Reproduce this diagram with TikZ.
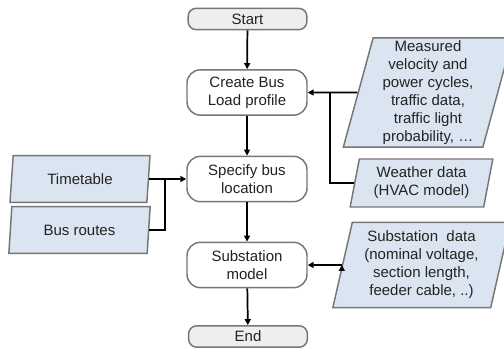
\documentclass[tikz,border=0pt]{standalone}
\usepackage{fontspec}
\setmainfont{Liberation Sans}
\usetikzlibrary{shapes.geometric, arrows.meta}
\definecolor{boxgray}{RGB}{118, 118, 118}
\definecolor{datablue}{RGB}{219, 229, 241}
\definecolor{termgray}{RGB}{238, 238, 238}
\definecolor{textdark}{RGB}{35, 35, 35}

\begin{document}
\begin{tikzpicture}[x=0.75pt, y=-0.75pt,
  every node/.style={font=\fontsize{11.25}{13.5}\selectfont, text=textdark, align=center},
  terminal/.style={draw=boxgray, fill=termgray, line width=1.1pt, rounded corners=6pt,
    minimum width=89pt, minimum height=16pt, inner sep=0pt},
  process/.style={draw=boxgray, fill=white, line width=1.1pt, rounded corners=10pt,
    minimum width=90pt, minimum height=34pt, inner sep=0pt},
  data/.style={trapezium, trapezium left angle=74, trapezium right angle=106,
    trapezium stretches body, draw=boxgray, fill=datablue, line width=1.1pt, inner sep=0pt},
  flow/.style={-{Triangle[length=4.5pt, width=4.5pt]}, line width=1.3pt},
  link/.style={line width=1.3pt}]

  \useasboundingbox (0,0) rectangle (504,352);

  \draw[]
   (247.5,19) node(start)[terminal] {Start}
   (247,92.5) node(create)[process] {Create Bus\\Load profile}
   (247,179) node(specify)[process] {Specify bus\\location}
   (247,265) node(substation)[process] {Substation\\model}
   (248,336.5) node(end)[terminal] {End};

  %inputs
  \draw[]
   (428,92.5) node(measured)[data, minimum width=127pt, minimum height=82pt]
     {Measured\\velocity and\\power cycles,\\traffic data,\\traffic light\\probability, \dots}
   (421.5,183) node(weather)[data, minimum width=107pt, minimum height=36pt]
     {Weather data\\(HVAC model)}
   (421.5,265) node(subdata)[data, minimum width=133pt, minimum height=64pt]
     {Substation\ \ data\\(nominal voltage,\\section length,\\feeder cable, ..)}
   (80,179) node(timetable)[data, minimum width=105pt, minimum height=35pt] {Timetable}
   (79.5,230) node(routes)[data, minimum width=106pt, minimum height=35pt] {Bus routes};

  \coordinate (jright) at (330,92.5);
  \coordinate (jleft) at (165,179);

  \draw[flow]
   (start) edge (create)
   (create) edge (specify)
   (specify) edge (substation)
   (substation) edge (end)
   (measured.west) edge (create.east)
   (timetable.east) edge (specify.west)
   (subdata.west) edge (substation.east);

  %joined inputs
  \draw[link] (weather.west) -| (jright);
  \draw[link] (routes.east) -| (jleft);
\end{tikzpicture}
\end{document}
